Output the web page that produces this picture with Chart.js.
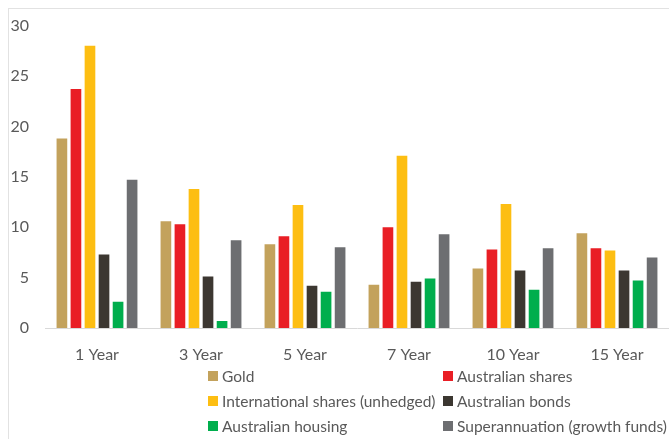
<!DOCTYPE html>
<html>
<head>
<meta charset="utf-8">
<script src="https://cdn.jsdelivr.net/npm/chart.js@4/dist/chart.umd.min.js"></script>
<style>
  body { margin: 0; background: #fff; }
  #wrap { position: relative; width: 669px; height: 439px; overflow: hidden; font-family: Lato, sans-serif; }
  #frame { position: absolute; left: 8px; top: 8px; right: -2px; bottom: -2px; border-left: 1px solid #e2e2e2; border-top: 1px solid #e2e2e2; }
  #returnsChart { position: absolute; left: 0; top: 0; }
  #legend { position: absolute; left: 208px; top: 365px; display: grid; grid-template-columns: 235px 230px; row-gap: 3px; }
  #legend div { display: flex; align-items: center; height: 22px; font-size: 15.5px; color: #595959; white-space: nowrap; }
  #legend span { display: inline-block; width: 10px; height: 10px; margin-right: 4px; }
</style>
</head>
<body>
<div id="wrap">
  <div id="frame"></div>
  <canvas id="returnsChart" width="669" height="370"></canvas>
  <div id="legend"></div>
</div>
<script>
// periods
const periods = ['1 Year', '3 Year', '5 Year', '7 Year', '10 Year', '15 Year'];

// annualised returns (%) per asset class
const gold = [18.8, 10.6, 8.3, 4.3, 5.9, 9.4];
const ausShares = [23.7, 10.3, 9.1, 10.0, 7.8, 7.9];
const intlShares = [28.0, 13.8, 12.2, 17.1, 12.3, 7.7];
const ausBonds = [7.3, 5.1, 4.2, 4.6, 5.7, 5.7];
const ausHousing = [2.6, 0.7, 3.6, 4.9, 3.8, 4.7];
const superFunds = [14.7, 8.7, 8.0, 9.3, 7.9, 7.0];

const yTicks = [0, 5, 10, 15, 20, 25, 30];

const series = [
  { label: 'Gold', data: gold, color: '#C3A25C' },
  { label: 'Australian shares', data: ausShares, color: '#E91E25' },
  { label: 'International shares (unhedged)', data: intlShares, color: '#FDBE12' },
  { label: 'Australian bonds', data: ausBonds, color: '#3C3731' },
  { label: 'Australian housing', data: ausHousing, color: '#00AE4D' },
  { label: 'Superannuation (growth funds)', data: superFunds, color: '#6D6E71' }
];

const tickFont = { family: 'Lato, sans-serif', size: 16 };

const chart = new Chart(document.getElementById('returnsChart'), {
  type: 'bar',
  data: {
    labels: periods,
    datasets: series.map(s => ({
      label: s.label,
      data: s.data,
      backgroundColor: s.color,
      borderWidth: 0,
      categoryPercentage: 0.81,
      barPercentage: 0.76
    }))
  },
  options: {
    responsive: false,
    animation: false,
    layout: { padding: { top: 20, right: 0, bottom: 0, left: 0 } },
    plugins: { legend: { display: false }, tooltip: { enabled: false } },
    scales: {
      x: {
        grid: { display: false, drawTicks: false },
        border: { color: '#d9d9d9', width: 1 },
        ticks: { color: '#595959', font: tickFont, padding: 17 },
        afterFit: s => { s.height = 42; }
      },
      y: {
        min: 0,
        max: 30,
        grid: { display: false, drawTicks: false },
        border: { display: false },
        afterBuildTicks: s => { s.ticks = yTicks.map(v => ({ value: v })); },
        ticks: { color: '#595959', font: tickFont, padding: 16 },
        afterFit: s => { s.width = 45; }
      }
    }
  }
});

// legend in two columns
const legend = document.getElementById('legend');
series.forEach(s => {
  const item = document.createElement('div');
  item.innerHTML = '<span style="background:' + s.color + '"></span>' + s.label;
  legend.appendChild(item);
});
</script>
</body>
</html>
